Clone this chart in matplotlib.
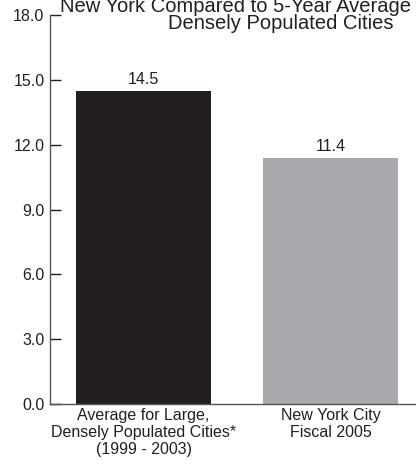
import matplotlib
matplotlib.use('Agg')
import matplotlib.pyplot as plt
from matplotlib import font_manager

categories = ['Average for Large,\nDensely Populated Cities*\n(1999 - 2003)',
              'New York City\nFiscal 2005']
values = [14.5, 11.4]
colors = ['#231f20', '#a7a9ac']
yticks = [0.0, 3.0, 6.0, 9.0, 12.0, 15.0, 18.0]

names = set(f.name for f in font_manager.fontManager.ttflist)
fam = 'Liberation Sans Narrow' if 'Liberation Sans Narrow' in names else 'Liberation Sans'
plt.rcParams['font.family'] = [fam, 'DejaVu Sans']

fig = plt.figure(figsize=(4.16, 4.67), dpi=100)
ax = fig.add_axes([50/416, 63/467, 1 - 50/416, (404-15)/467])

x = range(len(values))
bars = ax.bar(x, values, width=0.72, color=colors)
for b, v in zip(bars, values):
    ax.text(b.get_x() + b.get_width()/2, v + 0.15, '%.1f' % v,
            ha='center', va='bottom', fontsize=11.5, color='#231f20')

ax.set_xlim(-0.5, 1.457)
ax.set_ylim(0, 18)
ax.set_yticks(yticks)
ax.set_yticklabels(['%.1f' % t for t in yticks], fontsize=11.5, color='#231f20')
ax.set_xticks(list(x))
ax.set_xticklabels(categories, fontsize=11.5, color='#231f20', linespacing=1.15)
ax.tick_params(axis='y', direction='in', length=8, width=1, color='#231f20', pad=4)
ax.tick_params(axis='x', length=0, pad=3)
for s in ['top', 'right']:
    ax.spines[s].set_visible(False)
for s in ['left', 'bottom']:
    ax.spines[s].set_color('#555555')
    ax.spines[s].set_linewidth(1)

fig.text(281/416, 1 - 29/467, 'New York Compared to 5-Year Average for Large,\nDensely Populated Cities',
         ha='center', va='baseline', fontsize=14.5, color='#231f20', linespacing=0.9)

fig.savefig('out.png', dpi=100)
